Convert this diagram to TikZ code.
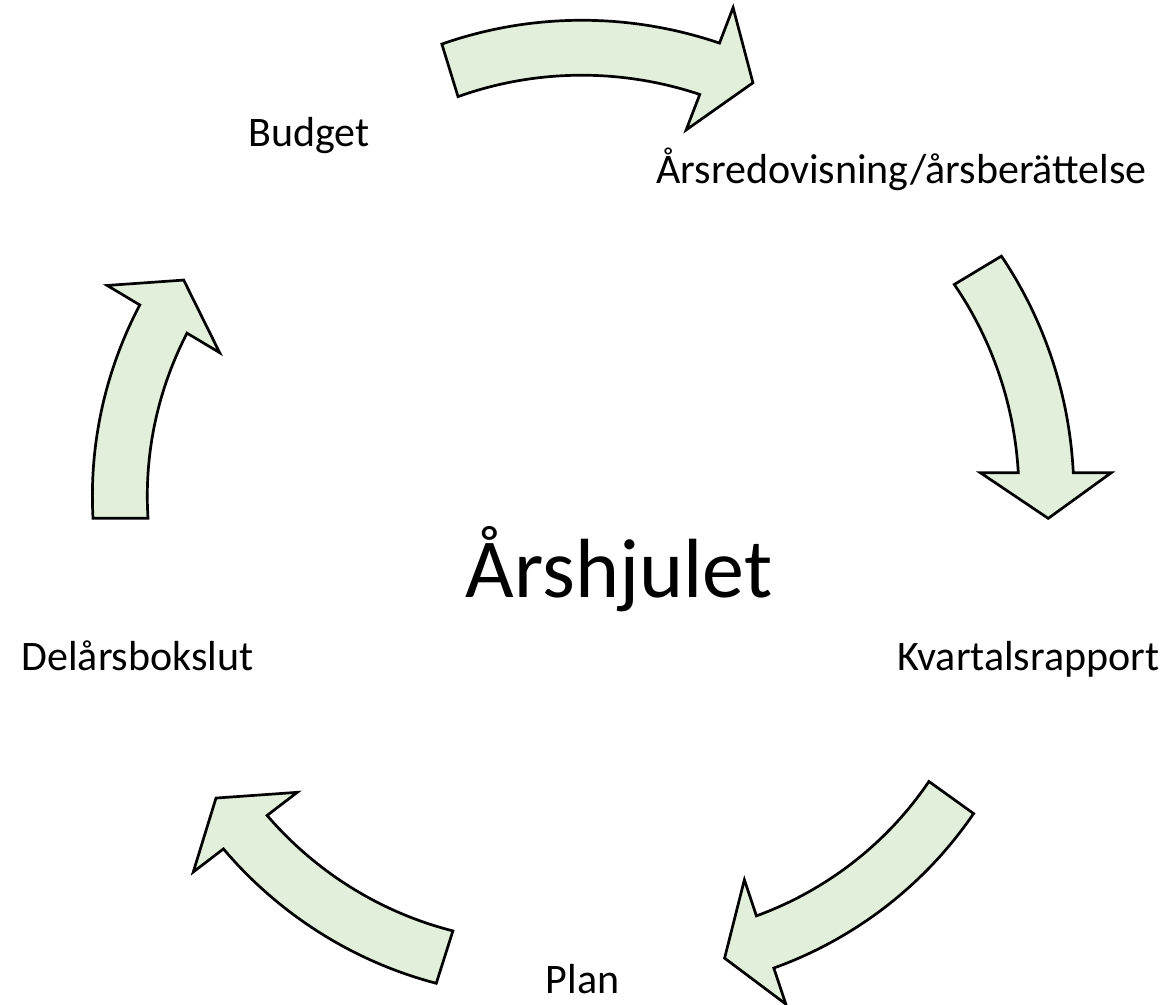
\documentclass[tikz,border=0pt]{standalone}
\usepackage{fontspec}
\setmainfont{Carlito}
\definecolor{arrowfill}{RGB}{226,239,218}
\tikzset{
  cyclearrow/.style={draw=black, line width=2.7pt, fill=arrowfill, line join=miter},
  lbl/.style={anchor=base, inner sep=0pt, font=\fontsize{42}{50}\selectfont},
  titlelbl/.style={anchor=base, inner sep=0pt, font=\fontsize{84}{100}\selectfont}
}
% #1 cx, #2 cy, #3 tail angle, #4 head angle, #5 tail mid radius, #6 head mid radius
\newcommand\cycarrow[6]{%
  \pgfmathsetmacro\Ra{#6+65.5}%
  \pgfmathsetmacro\Rb{#6-65.5}%
  \pgfmathsetmacro\Rt{#6+5}%
  \pgfmathsetmacro\At{#4+6.4}%
  \draw[cyclearrow]
    plot[domain=#3:#4, samples=40, variable=\t]
      ({#1+(#5+(#6-#5)*(\t-#3)/(#4-#3)+27.5)*cos(\t)},
       {#2+(#5+(#6-#5)*(\t-#3)/(#4-#3)+27.5)*sin(\t)})
    -- ({#1+\Ra*cos(#4)},{#2+\Ra*sin(#4)})
    -- ({#1+\Rt*cos(\At)},{#2+\Rt*sin(\At)})
    -- ({#1+\Rb*cos(#4)},{#2+\Rb*sin(#4)})
    -- plot[domain=#4:#3, samples=40, variable=\t]
      ({#1+(#5+(#6-#5)*(\t-#3)/(#4-#3)-27.5)*cos(\t)},
       {#2+(#5+(#6-#5)*(\t-#3)/(#4-#3)-27.5)*sin(\t)})
    -- cycle;%
}
\begin{document}
\begin{tikzpicture}[x=1pt, y=-1pt]
\useasboundingbox (0,0) rectangle (1174,1004);
% arrows
\cycarrow{565.2}{445}{-107.1}{-69.0}{392}{403}
\cycarrow{641}{472.7}{-31.0}{0}{393}{404.8}
\cycarrow{643}{576}{35.7}{71.55}{379.6}{385.8}
\cycarrow{560.9}{590.4}{107.6}{142.55}{384.7}{397.6}
\cycarrow{497}{518.3}{180}{210.85}{376.5}{388.6}
% labels
\node[titlelbl] (title) at (619,597) {Årshjulet};
\node[lbl] (budget) at (309,146.7) {Budget};
\node[lbl] (ars) at (901.5,183.3) {Årsredovisning/årsberättelse};
\node[lbl] (kvartal) at (1028.5,670) {Kvartalsrapport};
\node[lbl] (plan) at (582.5,993) {Plan};
\node[lbl] (delars) at (137.5,670) {Delårsbokslut};
\end{tikzpicture}
\end{document}
